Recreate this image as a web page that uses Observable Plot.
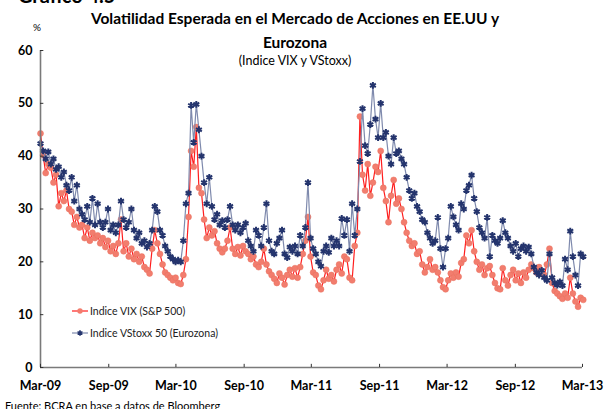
<!DOCTYPE html>
<html><head><meta charset="utf-8">
<script src="https://cdn.jsdelivr.net/npm/d3@7"></script>
<script src="https://cdn.jsdelivr.net/npm/@observablehq/plot@0.6"></script>
<style>
body{margin:0;background:#fff;}
#wrap{position:relative;width:604px;height:409px;overflow:hidden;font-family:Lato,"Open Sans",sans-serif;color:#000;}
.t{position:absolute;white-space:nowrap;}
#chart{position:absolute;left:0;top:0;}
</style></head><body><div id="wrap"><div id="chart"></div></div>
<script>
// Weekly readings, first week starting 2009-03-01
const firstWeek = "2009-03-01";
const vix = [
44.3,40.2,36.8,38.5,37.8,35.0,36.5,30.5,33.0,31.5,
33.5,30.0,29.5,27.0,28.5,26.5,27.0,24.5,26.5,24.0,
25.5,24.5,25.0,23.5,24.5,22.8,24.0,22.0,23.0,21.5,
23.5,28.0,22.0,23.5,21.0,22.5,20.5,21.5,20.0,21.0,
19.0,18.5,17.8,22.5,26.0,23.5,21.5,19.5,18.0,17.5,
17.0,16.5,17.0,16.0,15.8,17.5,20.5,28.5,41.0,38.0,
45.5,34.0,33.0,28.0,24.5,26.5,25.0,25.8,23.5,22.5,
21.8,22.5,24.0,26.5,22.5,21.5,22.8,21.2,23.0,22.0,
21.5,20.5,21.0,19.5,19.0,20.0,22.5,19.5,18.2,17.5,
16.8,16.0,17.8,17.0,15.7,17.5,18.5,17.2,18.8,17.0,
19.0,21.5,24.0,28.5,21.0,18.0,17.5,15.5,14.8,16.5,
18.5,16.8,17.5,16.3,18.5,19.5,17.8,21.0,20.5,17.0,
16.5,23.0,25.5,47.5,36.5,33.5,38.5,32.5,35.0,38.0,
37.0,41.0,34.0,31.5,27.5,32.5,35.5,31.0,32.0,30.0,
27.5,25.5,24.0,23.0,23.5,21.5,22.0,19.5,18.0,19.0,
20.5,18.5,19.0,18.0,16.5,15.2,14.8,16.5,17.8,17.0,
18.0,17.2,19.8,20.5,25.0,23.5,26.0,22.0,20.0,18.5,
19.5,17.5,18.8,19.2,17.5,16.0,15.0,14.8,18.8,16.5,
15.5,17.5,18.5,16.5,17.8,16.0,18.0,17.0,18.5,19.5,
18.8,18.0,19.0,18.2,17.5,19.5,22.5,16.0,14.5,14.0,
13.5,13.0,14.0,13.2,17.0,14.0,12.5,11.5,13.2,12.8];
const vstoxx = [
42.4,41.0,39.5,40.8,38.5,39.5,37.5,38.0,36.0,37.0,
34.5,33.5,36.0,31.5,34.5,30.0,29.0,28.0,30.5,27.5,
32.0,27.0,31.0,27.5,26.5,27.5,30.0,26.0,27.0,25.5,
27.0,31.5,28.0,26.5,27.5,30.0,26.0,24.5,25.5,23.5,
24.0,22.8,23.5,26.0,30.5,29.5,26.0,25.0,23.0,22.0,
21.0,20.5,20.0,20.3,20.0,24.0,31.0,33.0,49.6,42.6,
49.8,45.0,40.0,35.0,31.0,36.0,30.5,28.0,29.0,27.0,
27.8,26.5,28.0,30.5,27.0,26.0,27.0,25.5,26.5,27.3,
24.0,23.0,22.0,26.0,25.0,23.0,26.5,31.0,24.0,22.0,
21.5,23.5,24.5,26.0,21.5,20.8,22.8,22.0,23.0,21.5,
25.0,23.0,26.5,35.0,24.5,22.5,21.5,20.0,19.2,22.0,
23.0,21.8,24.5,23.0,24.0,23.0,28.2,25.0,28.0,22.0,
31.0,25.0,30.0,39.0,49.0,42.0,40.5,46.0,53.4,47.0,
43.5,50.0,43.5,44.5,40.0,38.5,43.5,40.5,41.0,39.5,
38.5,36.0,33.5,32.0,33.0,30.5,29.5,28.0,27.5,25.5,
24.5,23.5,24.0,28.4,22.5,19.0,22.5,24.5,30.5,28.5,
27.0,26.0,31.0,30.0,33.5,34.5,36.4,32.0,29.5,26.5,
25.5,24.5,28.4,21.0,25.0,24.0,23.5,24.5,27.8,25.5,
24.5,23.0,22.0,23.5,21.0,22.5,23.0,22.0,22.8,21.5,
19.0,18.0,17.5,18.4,17.0,16.5,21.5,17.0,16.0,15.6,
16.2,15.5,20.5,18.5,25.8,21.0,17.5,15.5,21.5,21.0];
const xTickDates = ["2009-03-01","2009-09-01","2010-03-01","2010-09-01","2011-03-01","2011-09-01","2012-03-01","2012-09-01","2013-03-01"];
const xTickLabels = ["Mar-09","Sep-09","Mar-10","Sep-10","Mar-11","Sep-11","Mar-12","Sep-12","Mar-13"];
const yTicks = [0,10,20,30,40,50,60];
const seriesNames = ["Indice VIX (S&P 500)","Indice VStoxx 50 (Eurozona)"];

const start = new Date(firstWeek + "T00:00:00Z");
const weekDate = i => d3.utcDay.offset(start, 7 * i);
const vixRows = vix.map((v, i) => ({date: weekDate(i), v}));
const vsRows = vstoxx.map((v, i) => ({date: weekDate(i), v}));
const tickDates = xTickDates.map(s => new Date(s + "T00:00:00Z"));
const labelOf = new Map(tickDates.map((d, i) => [+d, xTickLabels[i]]));
const x0 = tickDates[0], x1 = tickDates[tickDates.length - 1];

const chart = Plot.plot({
  width: 604, height: 409,
  marginTop: 50, marginBottom: 42, marginLeft: 40, marginRight: 22,
  x: {type: "utc", domain: [x0, x1]},
  y: {domain: [0, 60]},
  style: {fontFamily: "Lato, 'Open Sans', sans-serif", background: "transparent", overflow: "visible"},
  marks: [
    Plot.lineY(vixRows, {x: "date", y: "v", stroke: "#ff1e1e", strokeWidth: 1.2}),
    Plot.dot(vixRows, {x: "date", y: "v", r: 3, fill: "#f27d6e", stroke: "#e8705f", strokeWidth: 0.5}),
    Plot.lineY(vsRows, {x: "date", y: "v", stroke: "#7f8aad", strokeWidth: 1.2}),
    Plot.dot(vsRows, {x: "date", y: "v", r: 3.2, symbol: "asterisk", stroke: "#24346d", strokeWidth: 2}),
    Plot.ruleX([x0], {y1: 0, y2: 60, stroke: "#7a7a7a", strokeWidth: 1.6}),
    Plot.ruleY([0], {stroke: "#7a7a7a", strokeWidth: 1.6}),
    Plot.ruleY(yTicks, {x1: x0, x2: d3.utcDay.offset(x0, 9), stroke: "#333", strokeWidth: 1}),
    Plot.ruleX(tickDates, {y1: 0, y2: 0.6, stroke: "#333", strokeWidth: 1}),
    Plot.axisY({ticks: yTicks, tickSize: 0, tickPadding: 8, fontSize: 12.5, fontWeight: "bold", label: null, tickFormat: d => String(d)}),
    Plot.axisX({ticks: tickDates, tickSize: 0, tickPadding: 14, fontSize: 12.5, fontWeight: "bold", label: null, tickFormat: d => labelOf.get(+d)})
  ]
});
document.getElementById("chart").appendChild(chart);

const wrap = document.getElementById("wrap");
function addText(txt, css) {
  const d = document.createElement("div");
  d.className = "t";
  d.textContent = txt;
  Object.assign(d.style, css);
  wrap.appendChild(d);
  return d;
}
addText("Gráfico 4.5", {left: "18px", top: "-15px", fontSize: "20px", lineHeight: "20px", fontWeight: "bold"});
addText("Volatilidad Esperada en el Mercado de Acciones en EE.UU y", {left: "0", width: "590px", textAlign: "center", top: "8px", fontSize: "15.5px", lineHeight: "20px", fontWeight: "bold"});
addText("Eurozona", {left: "0", width: "590px", textAlign: "center", top: "32px", fontSize: "15.5px", lineHeight: "20px", fontWeight: "bold"});
addText("(Indice VIX y VStoxx)", {left: "0", width: "590px", textAlign: "center", top: "53px", fontSize: "12.5px", lineHeight: "16px"});
addText("%", {left: "33px", top: "21px", fontSize: "10px", lineHeight: "12px"});
addText("Fuente: BCRA en base a datos de Bloomberg", {left: "5px", top: "399px", fontSize: "11px", lineHeight: "13px"});

// legend
const ns = "http://www.w3.org/2000/svg";
const lg = document.createElementNS(ns, "svg");
lg.setAttribute("width", 250); lg.setAttribute("height", 40);
lg.style.position = "absolute"; lg.style.left = "68px"; lg.style.top = "300px";
lg.innerHTML =
  `<line x1="4" x2="20" y1="11" y2="11" stroke="#ff1e1e" stroke-width="1.2"/>` +
  `<circle cx="12" cy="11" r="2.7" fill="#f27d6e"/>` +
  `<line x1="4" x2="20" y1="33" y2="33" stroke="#7f8aad" stroke-width="1.2"/>` +
  `<path transform="translate(12,33)" d="${d3.symbol(d3.symbolAsterisk, 22)()}" stroke="#24346d" stroke-width="1.6" fill="none"/>` +
  `<text x="22" y="11" dy="0.35em" font-size="10.5" font-family="Lato, sans-serif" fill="#222">${seriesNames[0].replace("&","&amp;")}</text>` +
  `<text x="22" y="33" dy="0.35em" font-size="10.5" font-family="Lato, sans-serif" fill="#222">${seriesNames[1]}</text>`;
wrap.appendChild(lg);
</script>
</body></html>
